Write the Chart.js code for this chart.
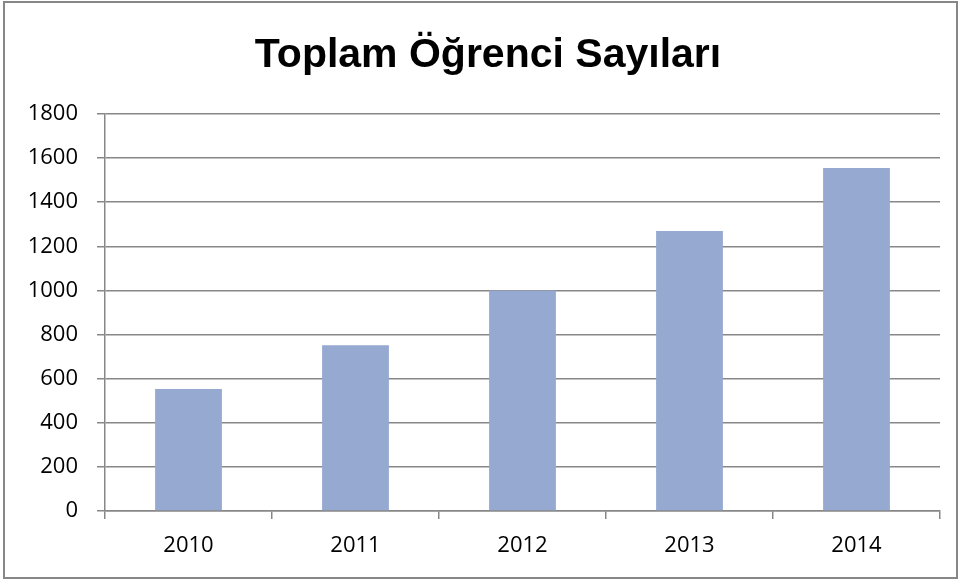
<!DOCTYPE html>
<html>
<head>
<meta charset="utf-8">
<script src="https://cdn.jsdelivr.net/npm/chart.js@4"></script>
<style>
  html, body { margin: 0; padding: 0; background: #fff; }
  #wrap { width: 960px; height: 580px; position: relative; }
</style>
</head>
<body>
<div id="wrap"><canvas id="myChart" width="960" height="580"></canvas></div>
<script>
const chartTitle = 'Toplam Öğrenci Sayıları';
const years = ["2010", "2011", "2012", "2013", "2014"];
const studentCounts = [553, 752, 1000, 1270, 1555];
const yTicks = [0, 200, 400, 600, 800, 1000, 1200, 1400, 1600, 1800];

// white background, outer frame and the title (drawn here so it can sit off-centre like the original)
const frame = {
  id: 'frame',
  beforeDraw(chart) {
    const ctx = chart.ctx;
    ctx.save();
    ctx.fillStyle = '#fff';
    ctx.fillRect(0, 0, chart.width, chart.height);
    ctx.strokeStyle = '#878787';
    ctx.lineWidth = 2;
    ctx.strokeRect(4, 2, 953, 576);
    ctx.fillStyle = '#000';
    ctx.font = "bold 41px 'Liberation Sans', sans-serif";
    ctx.textAlign = 'center';
    ctx.textBaseline = 'alphabetic';
    ctx.fillText(chartTitle, 488, 67);
    ctx.restore();
  }
};

new Chart(document.getElementById('myChart'), {
  type: 'bar',
  data: {
    labels: years,
    datasets: [{
      data: studentCounts,
      backgroundColor: '#95A9D1',
      barPercentage: 0.4,
      categoryPercentage: 1.0,
    }],
  },
  options: {
    responsive: false,
    animation: false,
    layout: { padding: { left: 0, right: 20, top: 114, bottom: 0 } },
    plugins: {
      legend: { display: false },
      tooltip: { enabled: false },
      title: { display: false },
    },
    scales: {
      x: {
        grid: { offset: true, drawOnChartArea: false, color: '#878787', tickLength: 8, lineWidth: 1.5 },
        border: { color: '#878787', width: 1.5 },
        ticks: { color: '#000', padding: 14, font: { family: "'Open Sans', sans-serif", size: 22 } },
        afterFit(scale) { scale.height = 69; },
      },
      y: {
        min: 0,
        max: 1800,
        afterBuildTicks(scale) { scale.ticks = yTicks.map(v => ({ value: v })); },
        grid: { color: '#878787', tickLength: 8, lineWidth: 1.5 },
        border: { color: '#878787', width: 1.5 },
        ticks: {
          color: '#000',
          padding: 19,
          font: { family: "'Open Sans', sans-serif", size: 22 },
          callback: (v) => String(v),
        },
        afterFit(scale) { scale.width = 105; },
      },
    },
  },
  plugins: [frame],
});
</script>
</body>
</html>
